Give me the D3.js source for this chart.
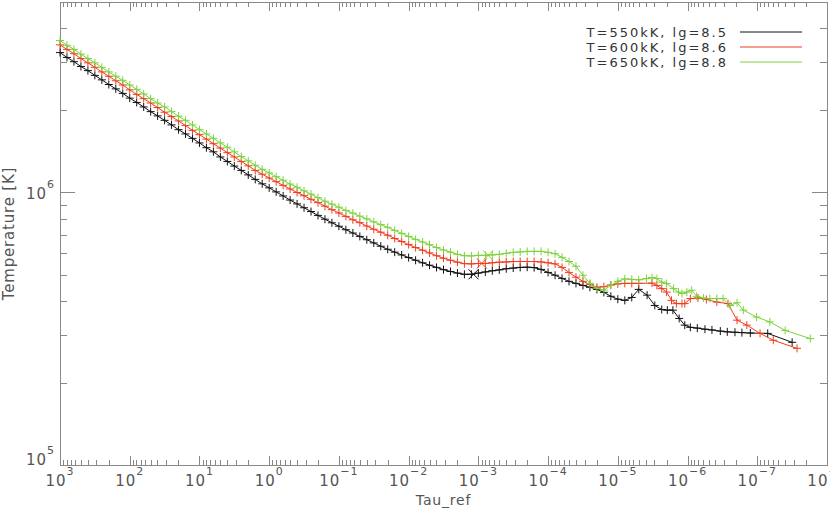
<!DOCTYPE html>
<html>
<head>
<meta charset="utf-8">
<script src="https://cdn.jsdelivr.net/npm/d3@7"></script>
<style>
  body { margin: 0; background: #fff; }
  svg { display: block; font-family: "DejaVu Sans", sans-serif; }
  .axis path, .axis line { stroke: #888; shape-rendering: crispEdges; }
  .lbl { fill: #555; }
</style>
</head>
<body>
<script>
// depth grid (log10 tau_ref), shared by the three models down to 1e-5.3
var logTau = [3.0, 2.9, 2.8, 2.7, 2.6, 2.5, 2.4, 2.3, 2.2, 2.1, 2.0, 1.9, 1.8, 1.7, 1.6, 1.5, 1.4, 1.3, 1.2, 1.1,
  1.0, 0.9, 0.8, 0.7, 0.6, 0.5, 0.4, 0.3, 0.2, 0.1, 0.0, -0.1, -0.2, -0.3, -0.4, -0.5, -0.6, -0.7, -0.8, -0.9,
  -1.0, -1.1, -1.2, -1.3, -1.4, -1.5, -1.6, -1.7, -1.8, -1.9, -2.0, -2.1, -2.2, -2.3, -2.4, -2.5, -2.6, -2.7, -2.8, -2.9,
  -3.0, -3.1, -3.2, -3.3, -3.4, -3.5, -3.6, -3.7, -3.8, -3.9, -4.0, -4.1, -4.2, -4.3, -4.4, -4.5, -4.6, -4.7, -4.8, -4.9,
  -5.0, -5.1, -5.2, -5.3];

// temperatures in kK
var tempBlack = [3260, 3130, 3020, 2900, 2800, 2690, 2590, 2490, 2400, 2310, 2220, 2140, 2060, 1980, 1910, 1840, 1770, 1700, 1640, 1580,
  1520, 1460, 1410, 1350, 1300, 1250, 1205, 1160, 1117, 1076, 1040, 1005, 971, 938, 908, 879, 851, 824, 798, 774,
  752, 730, 710, 690, 671, 653, 635, 619, 604, 590, 577, 564, 552, 541, 531, 521, 513, 506, 501, 501,
  506, 511, 516, 520, 525, 528, 531, 532, 530, 522, 509, 497, 484, 472, 464, 456, 449, 441, 430, 416,
  406, 402, 412, 441];
var tempRed = [3480, 3350, 3230, 3100, 2990, 2880, 2770, 2670, 2570, 2480, 2380, 2290, 2210, 2130, 2050, 1970, 1900, 1830, 1760, 1690,
  1630, 1570, 1510, 1455, 1400, 1350, 1300, 1253, 1205, 1167, 1130, 1096, 1062, 1030, 1000, 973, 944, 918, 891, 865,
  841, 817, 794, 775, 753, 733, 715, 697, 678, 661, 644, 628, 614, 600, 586, 574, 564, 555, 548, 547,
  549, 549, 552, 555, 556, 558, 558, 558, 558, 556, 552, 547, 531, 509, 489, 472, 460, 449, 451, 458,
  462, 464, 464, 464];
var tempGreen = [3610, 3470, 3350, 3220, 3100, 2990, 2880, 2770, 2670, 2580, 2480, 2390, 2300, 2210, 2130, 2060, 1980, 1905, 1840, 1770,
  1700, 1640, 1580, 1520, 1466, 1409, 1355, 1306, 1259, 1216, 1180, 1143, 1109, 1074, 1045, 1014, 986, 957, 929, 906,
  883, 859, 840, 819, 800, 780, 762, 745, 726, 708, 690, 673, 658, 643, 628, 615, 604, 593, 586, 585,
  588, 588, 590, 593, 598, 603, 605, 608, 608, 608, 603, 596, 578, 558, 536, 497, 464, 445, 438, 456,
  472, 482, 480, 478];

// outer layers, own grids
var tailTauBlack = [-5.42, -5.53, -5.63, -5.71, -5.79, -5.88, -5.96, -6.04, -6.14, -6.25, -6.35, -6.47, -6.57, -6.68, -6.78, -6.90, -7.15, -7.50];
var tailTempBlack = [420, 385, 372, 370, 370, 345, 326, 320, 318, 315, 313, 310, 308, 307, 306, 305, 304, 282];
var tailTauRed = [-5.49, -5.56, -5.63, -5.70, -5.77, -5.84, -5.92, -5.96, -6.04, -6.15, -6.27, -6.42, -6.58, -6.71, -6.85, -7.04, -7.23, -7.57];
var tailTempRed = [465, 456, 444, 431, 402, 391, 391, 391, 408, 410, 405, 396, 391, 340, 326, 304, 287, 268];
var tailTauGreen = [-5.41, -5.49, -5.56, -5.63, -5.70, -5.80, -5.87, -5.92, -5.99, -6.06, -6.13, -6.23, -6.32, -6.42, -6.51, -6.61, -6.71, -6.80, -6.99, -7.18, -7.40, -7.76];
var tailTempGreen = [483, 487, 483, 469, 463, 444, 431, 426, 431, 438, 416, 410, 408, 408, 408, 385, 394, 370, 349, 335, 312, 291];

// the big "x" marks
var crossTau = [-2.93, -3.05, -3.14];
var crossTemp = [501, 549, 588];

var legendNames = ["T=550kK, lg=8.5", "T=600kK, lg=8.6", "T=650kK, lg=8.8"];
var colors = ["#111111", "#f03c1e", "#7cd23c"];

var xTickExp = [3, 2, 1, 0, -1, -2, -3, -4, -5, -6, -7, -8];
var yTickExp = [5, 6];

var svgWidth = 830, svgHeight = 522;
var pLeft = 60, pRight = 827, pTop = 2, pBottom = 465;

var svg = d3.select("body").append("svg")
    .attr("width", svgWidth)
    .attr("height", svgHeight);

var x = d3.scaleLog().domain([1e3, 1e-8]).range([pLeft, pRight]);
var y = d3.scaleLog().domain([1e5, 5e6]).range([pBottom, pTop]);

function pow10(e) { return Math.pow(10, e); }

var xMajor = xTickExp.map(pow10);
var xMinor = [];
xTickExp.slice(1).forEach(function(e) {
    for (var k = 2; k <= 9; k++) xMinor.push(k * pow10(e));
});
var yMajor = yTickExp.map(pow10);
var yMinor = [];
yTickExp.forEach(function(e) {
    for (var k = 2; k <= 9; k++) {
        var v = k * pow10(e);
        if (v < 5e6) yMinor.push(v);
    }
});

// axes box with inward ticks
function addAxis(axis, tx, ty) {
    svg.append("g")
        .attr("class", "axis")
        .attr("transform", "translate(" + tx + "," + ty + ")")
        .call(axis.tickFormat("").tickSizeOuter(0));
}
addAxis(d3.axisBottom(x).tickValues(xMajor).tickSize(-9), 0, pBottom);
addAxis(d3.axisBottom(x).tickValues(xMinor).tickSize(-5), 0, pBottom);
addAxis(d3.axisTop(x).tickValues(xMajor).tickSize(-9), 0, pTop);
addAxis(d3.axisTop(x).tickValues(xMinor).tickSize(-5), 0, pTop);
addAxis(d3.axisLeft(y).tickValues(yMajor).tickSize(-15), pLeft, 0);
addAxis(d3.axisLeft(y).tickValues(yMinor).tickSize(-7), pLeft, 0);
addAxis(d3.axisRight(y).tickValues(yMajor).tickSize(-15), pRight, 0);
addAxis(d3.axisRight(y).tickValues(yMinor).tickSize(-7), pRight, 0);

function expText(e) { return e < 0 ? "\u2212" + (-e) : String(e); }

// x tick labels
xTickExp.forEach(function(e) {
    var t = svg.append("text")
        .attr("class", "lbl")
        .attr("x", x(pow10(e)))
        .attr("y", 486)
        .attr("text-anchor", "middle")
        .style("font-size", "15px")
        .style("letter-spacing", "1px");
    t.append("tspan").text("10");
    t.append("tspan").attr("dy", -11).style("font-size", "11px").text(expText(e));
});

// y tick labels
yTickExp.forEach(function(e) {
    var t = svg.append("text")
        .attr("class", "lbl")
        .attr("x", 55)
        .attr("y", Math.min(y(pow10(e)) + 7, 465))
        .attr("text-anchor", "end")
        .style("font-size", "15px")
        .style("letter-spacing", "1px");
    t.append("tspan").text("10");
    t.append("tspan").attr("dy", -11).style("font-size", "11px").text(expText(e));
});

svg.append("text")
    .attr("class", "lbl")
    .attr("x", (pLeft + pRight) / 2)
    .attr("y", 505)
    .attr("text-anchor", "middle")
    .style("font-size", "14px")
    .style("letter-spacing", "0.8px")
    .text("Tau_ref");

svg.append("text")
    .attr("class", "lbl")
    .attr("transform", "translate(14," + ((pTop + pBottom) / 2) + ") rotate(-90)")
    .attr("text-anchor", "middle")
    .style("font-size", "15px")
    .style("letter-spacing", "0.8px")
    .text("Temperature [K]");

// series
var series = [
    { tau: logTau.concat(tailTauBlack), t: tempBlack.concat(tailTempBlack) },
    { tau: logTau.concat(tailTauRed), t: tempRed.concat(tailTempRed) },
    { tau: logTau.concat(tailTauGreen), t: tempGreen.concat(tailTempGreen) }
];

var line = d3.line()
    .x(function(d) { return x(pow10(d[0])); })
    .y(function(d) { return y(d[1] * 1e3); });

var chart = svg.append("g");

series.forEach(function(s, i) {
    var pts = s.tau.map(function(v, j) { return [v, s.t[j]]; });
    chart.append("path")
        .datum(pts)
        .attr("d", line)
        .attr("fill", "none")
        .attr("stroke", colors[i])
        .attr("stroke-width", 1);

    chart.selectAll(".pt" + i)
        .data(pts)
        .enter()
        .append("path")
        .attr("class", "pt" + i)
        .attr("transform", function(d) {
            return "translate(" + x(pow10(d[0])) + "," + y(d[1] * 1e3) + ")";
        })
        .attr("d", "M-4,0H4M0,-4V4")
        .attr("stroke", colors[i])
        .attr("stroke-width", 1);
});

chart.selectAll(".cross")
    .data(crossTau)
    .enter()
    .append("path")
    .attr("class", "cross")
    .attr("transform", function(d, i) {
        return "translate(" + x(pow10(d)) + "," + y(crossTemp[i] * 1e3) + ")";
    })
    .attr("d", "M-5,-5L5,5M-5,5L5,-5")
    .attr("stroke", function(d, i) { return colors[i]; })
    .attr("stroke-width", 1);

// legend
var legend = svg.append("g");
legendNames.forEach(function(name, i) {
    var ly = 32 + i * 15;
    legend.append("text")
        .attr("x", 728)
        .attr("y", ly + 5)
        .attr("text-anchor", "end")
        .style("font-size", "13px")
        .style("letter-spacing", "2px")
        .style("fill", "#333")
        .text(name);
    legend.append("line")
        .attr("x1", 740)
        .attr("x2", 802)
        .attr("y1", ly)
        .attr("y2", ly)
        .attr("stroke", colors[i])
        .attr("stroke-width", 1);
});
</script>
</body>
</html>
